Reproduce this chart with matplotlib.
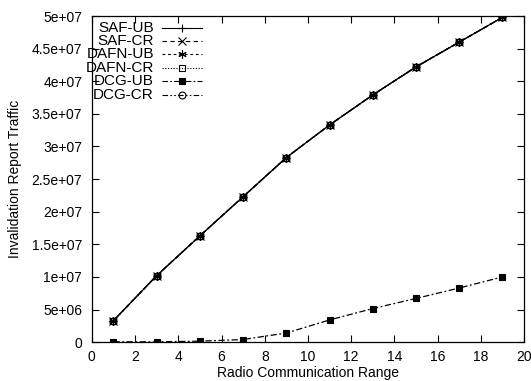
import matplotlib.pyplot as plt
from matplotlib.lines import Line2D
from matplotlib.ticker import FuncFormatter, MultipleLocator

plt.rcParams['font.family'] = ['Liberation Sans', 'DejaVu Sans']

comm_range = [1, 3, 5, 7, 9, 11, 13, 15, 17, 19]

# upper bound and caching variants all give the same traffic
saf_ub = [3.3e6, 10.2e6, 16.3e6, 22.3e6, 28.3e6, 33.3e6, 37.9e6, 42.2e6, 46.0e6, 49.8e6]
saf_cr = [3.3e6, 10.2e6, 16.3e6, 22.3e6, 28.3e6, 33.3e6, 37.9e6, 42.2e6, 46.0e6, 49.8e6]
dafn_ub = [3.3e6, 10.2e6, 16.3e6, 22.3e6, 28.3e6, 33.3e6, 37.9e6, 42.2e6, 46.0e6, 49.8e6]
dafn_cr = [3.3e6, 10.2e6, 16.3e6, 22.3e6, 28.3e6, 33.3e6, 37.9e6, 42.2e6, 46.0e6, 49.8e6]
dcg_ub = [0.05e6, 0.05e6, 0.15e6, 0.4e6, 1.4e6, 3.4e6, 5.15e6, 6.7e6, 8.3e6, 10.0e6]
dcg_cr = [3.3e6, 10.2e6, 16.3e6, 22.3e6, 28.3e6, 33.3e6, 37.9e6, 42.2e6, 46.0e6, 49.8e6]

series = [
    ('SAF-UB', saf_ub, '-', '+', 'none'),
    ('SAF-CR', saf_cr, (0, (4, 3)), 'x', 'none'),
    ('DAFN-UB', dafn_ub, (0, (2.5, 2.5)), (6, 2, 0), 'none'),
    ('DAFN-CR', dafn_cr, (0, (1, 1.5)), 's', 'none'),
    ('DCG-UB', dcg_ub, (0, (5, 2, 1.5, 2)), 's', 'black'),
    ('DCG-CR', dcg_cr, (0, (5, 2, 1.5, 2, 1.5, 2)), 'o', 'none'),
]

fig = plt.figure(figsize=(5.31, 3.81), dpi=100)
ax = fig.add_axes([0.173, 0.102, 0.814, 0.856])

for name, vals, ls, mk, fc in series:
    ms = 5 if mk in ('s', 'o') else 6
    ax.plot(comm_range, vals, color='black', linestyle=ls, linewidth=0.9,
            marker=mk, markersize=ms, markerfacecolor=fc,
            markeredgecolor='black', markeredgewidth=0.8)

ax.set_xlim(0, 20)
ax.set_ylim(0, 5e7)
ax.xaxis.set_major_locator(MultipleLocator(2))
ax.yaxis.set_major_locator(MultipleLocator(5e6))
ax.yaxis.set_major_formatter(FuncFormatter(lambda v, p: '%g' % v))
ax.tick_params(direction='in', top=True, right=True, length=5, width=0.8,
               labelsize=10)
ax.tick_params(axis='y', pad=7)
ax.tick_params(axis='x', pad=6)
for sp in ax.spines.values():
    sp.set_linewidth(0.9)

ax.set_xlabel('Radio Communication Range', fontsize=10, labelpad=1)
ax.set_ylabel('Invalidation Report Traffic', fontsize=10, labelpad=7)

# gnuplot-style key: label right-aligned, sample line to the right
y0, dy = 0.964, 0.041
for i, (name, vals, ls, mk, fc) in enumerate(series):
    y = y0 - i * dy
    ax.text(0.1435, y, name, transform=ax.transAxes, ha='right', va='center',
            fontsize=11)
    ax.add_line(Line2D([0.162, 0.255], [y, y], transform=ax.transAxes,
                       color='black', linestyle=ls, linewidth=0.8))
    ms = 5 if mk in ('s', 'o') else 6
    ax.add_line(Line2D([0.2085], [y], transform=ax.transAxes, color='black',
                       marker=mk, markersize=ms, markerfacecolor=fc,
                       markeredgecolor='black', markeredgewidth=0.8))

fig.savefig('out.png', dpi=100)
